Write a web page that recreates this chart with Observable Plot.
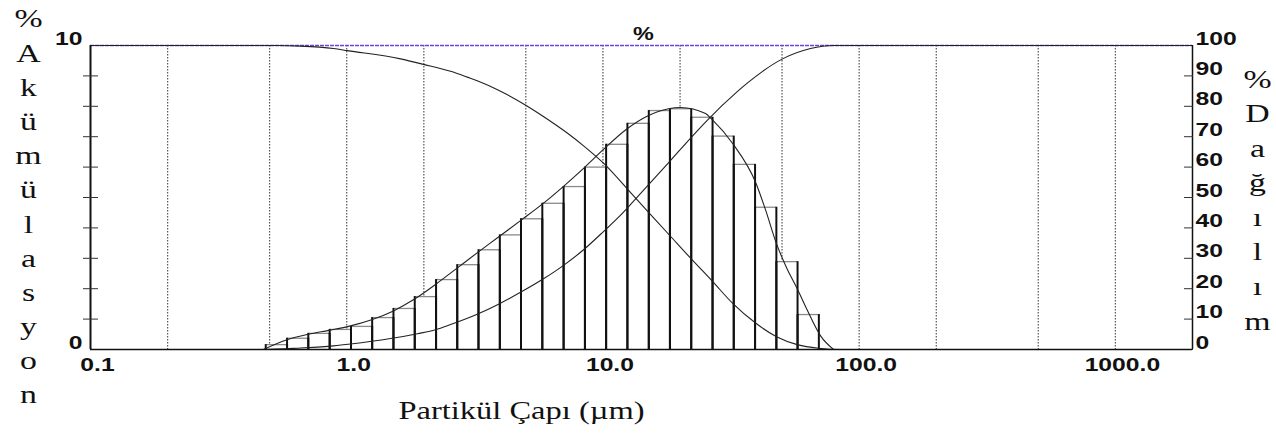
<!DOCTYPE html>
<html>
<head>
<meta charset="utf-8">
<script src="https://cdn.jsdelivr.net/npm/d3@7"></script>
<script src="https://cdn.jsdelivr.net/npm/@observablehq/plot@0.6"></script>
<style>
  body { margin: 0; background: #fff; }
</style>
</head>
<body>
<div id="chart"></div>
<script>
// ---- Data ----
// histogram bin edges (µm) and bar heights (% Dağılım)
const binEdges = [0.483, 0.585, 0.708, 0.858, 1.039, 1.257, 1.522, 1.843, 2.232, 2.700, 3.268, 3.959, 4.789, 5.800, 7.023, 8.506, 10.29, 12.46, 15.10, 18.26, 22.11, 26.78, 32.40, 39.24, 47.52, 57.49, 69.62];
const binValues = [1.6, 3.7, 5.3, 6.6, 7.6, 10.5, 13.5, 17.4, 23.0, 27.9, 32.8, 37.7, 43.0, 48.1, 53.6, 60.0, 67.5, 74.4, 78.6, 79.2, 76.4, 70.2, 60.9, 46.8, 28.9, 11.5];

// smooth distribution curve
const freqX = [0.473, 0.585, 0.708, 0.851, 1.026, 1.251, 1.522, 1.834, 2.222, 2.680, 3.230, 3.913, 4.768, 5.797, 6.998, 8.403, 10.05, 12.25, 14.93, 18.03, 20.09, 25.15, 26.71, 32.25, 39.42, 43.09, 47.48, 52.03, 57.33, 62.7, 70.7, 79.5];
const freqY = [0, 3.2, 5.0, 6.3, 7.7, 9.8, 12.7, 16.5, 21.4, 26.6, 31.8, 37.0, 42.4, 47.8, 53.6, 59.6, 65.8, 72.2, 76.8, 79.2, 79.6, 77.6, 75.6, 67.5, 55.0, 46.0, 35.0, 27.0, 20.0, 13.0, 4.5, 0];

// cumulative undersize (rising)
const underX = [0.1, 0.473, 0.660, 0.888, 1.035, 1.483, 1.889, 2.222, 2.542, 3.230, 3.913, 4.768, 5.797, 6.998, 8.403, 10.05, 11.72, 13.17, 18.20, 22.12, 25.53, 33.44, 36.58, 50.23, 64.6, 79.5, 2000];
const underY = [0, 0, 0.5, 1.2, 1.8, 3.6, 5.2, 6.5, 8.2, 11.6, 14.9, 18.8, 23.0, 27.6, 32.8, 38.8, 44.2, 48.8, 61.8, 69.8, 75.4, 84.8, 87.6, 95.6, 99.0, 100, 100];

// cumulative oversize (falling)
const overX = [0.1, 0.537, 0.660, 0.888, 1.007, 1.622, 1.994, 2.542, 2.953, 3.230, 3.913, 5.033, 5.797, 7.256, 8.403, 10.05, 13.17, 18.24, 22.12, 26.71, 32.25, 39.42, 47.60, 57.33, 69.42, 84.6, 2000];
const overY = [100, 100, 99.8, 99.0, 98.3, 95.6, 93.8, 91.5, 89.6, 88.4, 85.3, 80.2, 76.9, 71.2, 67.0, 61.3, 50.5, 37.5, 29.8, 22.5, 15.0, 8.7, 4.2, 1.6, 0.4, 0, 0];

const xDomain = [0.1, 2000];
const gridValues = [0.2, 0.5, 1, 2, 5, 10, 20, 50, 100, 200, 500, 1000];
const xTicks = [0.1, 1, 10, 100, 1000];
const xTickLabels = ["0.1", "1.0", "10.0", "100.0", "1000.0"];
const rightTicks = [0, 10, 20, 30, 40, 50, 60, 70, 80, 90, 100];
const innerTicks = [10, 20, 30, 40, 50, 60, 70, 80, 90];
const leftLabelTicks = [0, 100];
const leftLabelText = ["0", "10"];

const titleTop = "%";
const leftTitle = ["%", "A", "k", "ü", "m", "ü", "l", "a", "s", "y", "o", "n"];
const rightTitle = ["%", "D", "a", "ğ", "ı", "l", "ı", "m"];
const xTitle = "Partikül Çapı (µm)";

// ---- Build tables ----
const bins = binValues.map((v, i) => ({lo: binEdges[i], hi: binEdges[i + 1], v}));
const freq = freqX.map((x, i) => ({x, y: freqY[i]}));
const under = underX.map((x, i) => ({x, y: underY[i]}));
const over = overX.map((x, i) => ({x, y: overY[i]}));

const sans = "'Liberation Sans', Arial, sans-serif";
const serif = "'Liberation Serif', 'Times New Roman', serif";

const chart = Plot.plot({
  width: 1276,
  height: 433,
  marginLeft: 90,
  marginRight: 84,
  marginTop: 45,
  marginBottom: 84,
  x: {type: "log", domain: xDomain},
  y: {domain: [0, 100]},
  style: {fontFamily: sans, fontSize: "19px", fontWeight: "bold", background: "#fff", color: "#111", overflow: "visible"},
  marks: [
    // dotted vertical grid
    Plot.ruleX(gridValues, {stroke: "#555", strokeWidth: 1.2, strokeDasharray: "1.5,1.5"}),
    // top border (purple)
    Plot.ruleY([100], {stroke: "#6b44d6", strokeWidth: 1.5, strokeDasharray: "4,1"}),
    // histogram bars
    Plot.rect(bins, {x1: "lo", x2: "hi", y1: 0, y2: "v", fill: "#fff"}),
    Plot.ruleY(bins, {x1: "lo", x2: "hi", y: "v", stroke: "#8a8a8a", strokeWidth: 1.3}),
    Plot.ruleX(bins, {x: "lo", y1: 0, y2: "v", stroke: "#111", strokeWidth: 2}),
    Plot.ruleX(bins, {x: "hi", y1: 0, y2: "v", stroke: "#111", strokeWidth: 2}),
    // curves
    Plot.line(over, {x: "x", y: "y", stroke: "#222", strokeWidth: 1.1, curve: "monotone-x"}),
    Plot.line(under, {x: "x", y: "y", stroke: "#222", strokeWidth: 1.1, curve: "monotone-x"}),
    Plot.line(freq, {x: "x", y: "y", stroke: "#222", strokeWidth: 1.1, curve: "monotone-x"}),
    // frame: left, right, bottom
    Plot.ruleX([xDomain[0]], {stroke: "#111", strokeWidth: 2}),
    Plot.ruleX([xDomain[1]], {stroke: "#111", strokeWidth: 1.5}),
    Plot.ruleY([0], {stroke: "#111", strokeWidth: 1.5}),
    // x axis labels
    Plot.axisX(xTicks, {anchor: "bottom", tickSize: 0, tickPadding: 8, dx: 7, tickFormat: (d) => xTickLabels[xTicks.indexOf(d)], label: null}),
    // left axis: crossing ticks + two labels
    Plot.axisY(innerTicks, {anchor: "left", tickSize: 15, dx: 8, stroke: "#333", tickFormat: () => "", label: null}),
    Plot.axisY(leftLabelTicks, {anchor: "left", tickSize: 0, tickPadding: 8, dy: -7, tickFormat: (d) => leftLabelText[leftLabelTicks.indexOf(d)], label: null}),
    // right axis: inner ticks + labels
    Plot.axisY(innerTicks, {anchor: "right", tickSize: 9, dx: -9, stroke: "#333", tickFormat: () => "", label: null}),
    Plot.axisY(rightTicks, {anchor: "right", tickSize: 0, tickPadding: 3, dy: -7, label: null}),
    // titles
    Plot.text([titleTop], {frameAnchor: "top", dx: 2, dy: -11, textAnchor: "middle", lineAnchor: "middle", fontSize: 18, fontWeight: "bold", fontFamily: sans}),
    Plot.text([leftTitle.join("\n")], {frameAnchor: "left", dx: -62, dy: 7, textAnchor: "middle", lineAnchor: "middle", lineHeight: 1.315, fontSize: 26, fontWeight: "normal", fontFamily: serif}),
    Plot.text([rightTitle.join("\n")], {frameAnchor: "right", dx: 65, dy: 0, textAnchor: "middle", lineAnchor: "middle", lineHeight: 1.33, fontSize: 26, fontWeight: "normal", fontFamily: serif}),
    Plot.text([xTitle], {frameAnchor: "bottom-left", dx: 431, dy: 61, textAnchor: "middle", lineAnchor: "middle", fontSize: 25, fontWeight: "normal", fontFamily: serif})
  ]
});

// the reference's lettering is horizontally stretched; widen each text around its anchor
chart.querySelectorAll("text").forEach((t) => {
  const tr = t.getAttribute("transform");
  if (tr) {
    t.setAttribute("transform", tr + " scale(1.3,1)");
  } else {
    const x = +t.getAttribute("x") || 0, y = +t.getAttribute("y") || 0;
    t.removeAttribute("x");
    t.removeAttribute("y");
    t.setAttribute("transform", `translate(${x},${y}) scale(1.3,1)`);
  }
});

document.getElementById("chart").appendChild(chart);
</script>
</body>
</html>
